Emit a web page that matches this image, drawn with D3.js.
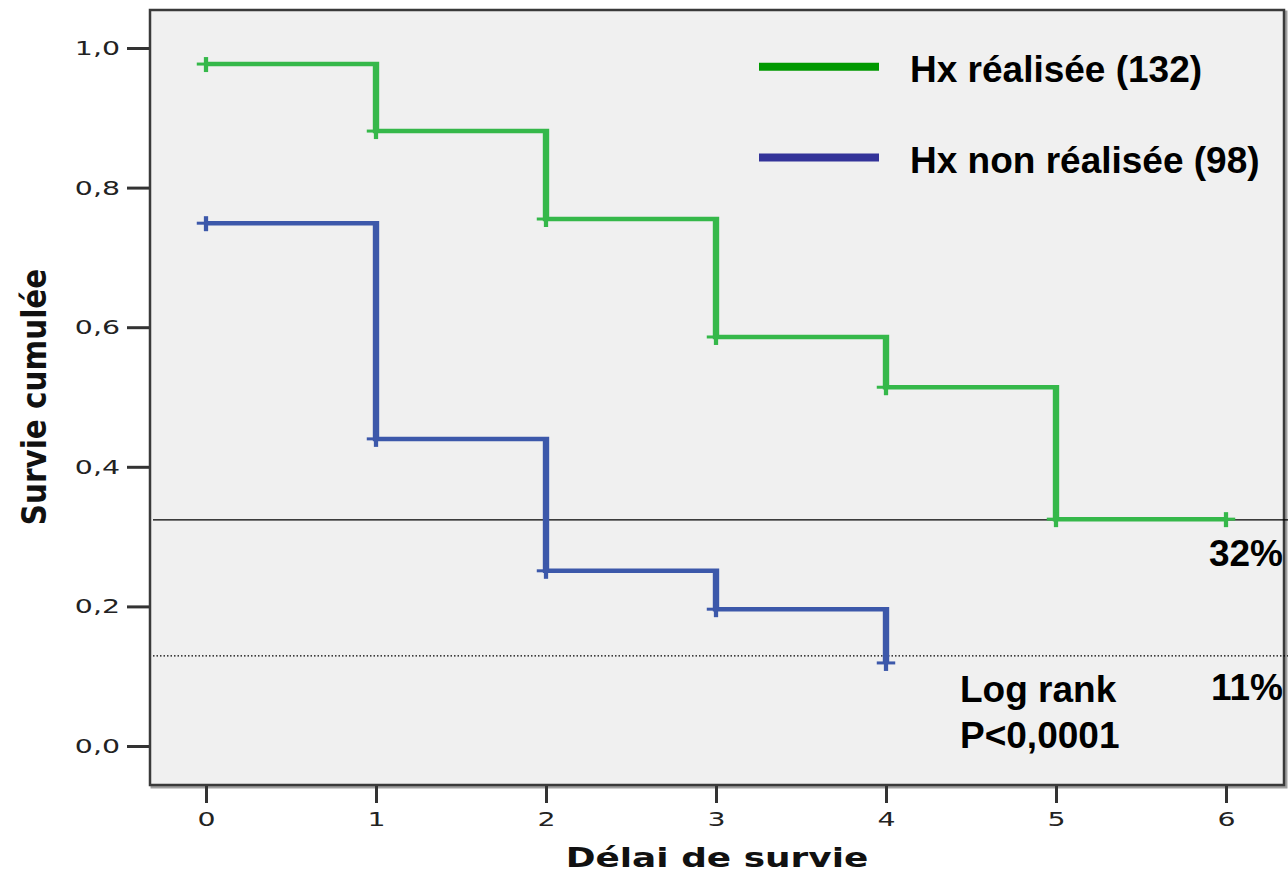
<!DOCTYPE html>
<html>
<head>
<meta charset="utf-8">
<script src="https://cdn.jsdelivr.net/npm/d3@7"></script>
<style>
  html, body { margin: 0; padding: 0; background: #fff; overflow: hidden; }
  svg { display: block; }
</style>
</head>
<body>
<div id="chart"></div>
<script>
// Kaplan-Meier survival values
const times = [0, 1, 2, 3, 4, 5, 6];
const survieRealisee = [0.977, 0.881, 0.755, 0.586, 0.514, 0.325, 0.325];
const survieNonRealisee = [0.749, 0.44, 0.251, 0.196, 0.119];
const seriesNames = ["Hx réalisée (132)", "Hx non réalisée (98)"];
const yTicks = [0, 0.2, 0.4, 0.6, 0.8, 1.0];
const xTicks = [0, 1, 2, 3, 4, 5, 6];
const refLevels = [0.324, 0.129]; // 32% and 11% guide lines
const refLabels = ["32%", "11%"];
const testLines = ["Log rank", "P<0,0001"];

const W = 1288, H = 885;
const frame = { left: 150, top: 10, right: 1284, bottom: 785 };
// the original SPSS picture was stretched sideways, so its parts are drawn stretched too
const sx = 1.42;

const svg = d3.select("#chart").append("svg")
  .attr("width", W).attr("height", H);

const x = d3.scaleLinear().domain([0, 6]).range([206, 1226]);
const xs = d3.scaleLinear().domain([0, 6]).range([206 / sx, 1226 / sx]); // for the stretched group
const y = d3.scaleLinear().domain([0, 1]).range([746, 48]);

// plot background + frame with a light shadow
svg.append("rect")
  .attr("x", frame.left + 2).attr("y", frame.top + 2)
  .attr("width", frame.right - frame.left).attr("height", frame.bottom - frame.top)
  .attr("fill", "none").attr("stroke", "#a0a0a0").attr("stroke-width", 3);
svg.append("rect")
  .attr("x", frame.left).attr("y", frame.top)
  .attr("width", frame.right - frame.left).attr("height", frame.bottom - frame.top)
  .attr("fill", "#f0f0f0").attr("stroke", "#3a3a3a").attr("stroke-width", 2.5);

// stretch tick labels sideways around their anchor
function stretchLabels(sel) {
  sel.each(function() {
    const t = d3.select(this);
    const x0 = +t.attr("x") || 0;
    t.attr("x", x0 / sx).attr("transform", `scale(${sx},1)`);
  });
}

// y axis
const yAxis = d3.axisLeft(y).tickValues(yTicks)
  .tickFormat(d => d3.format(".1f")(d).replace(".", ","))
  .tickSize(22).tickPadding(7);
const gy = svg.append("g")
  .attr("transform", `translate(${frame.left - 1},0)`)
  .call(yAxis);
gy.select(".domain").remove();
gy.selectAll(".tick line").attr("stroke", "#333").attr("stroke-width", 3);
gy.selectAll(".tick text")
  .attr("fill", "#222").style("font-family", "DejaVu Sans").style("font-size", "20px")
  .call(stretchLabels);

// x axis
const xAxis = d3.axisBottom(x).tickValues(xTicks).tickFormat(d3.format("d"))
  .tickSize(17).tickPadding(9);
const gx = svg.append("g")
  .attr("transform", `translate(0,${frame.bottom + 1})`)
  .call(xAxis);
gx.select(".domain").remove();
gx.selectAll(".tick line").attr("stroke", "#333").attr("stroke-width", 3);
gx.selectAll(".tick text")
  .attr("fill", "#222").style("font-family", "DejaVu Sans").style("font-size", "20px")
  .call(stretchLabels);

// axis titles
svg.append("text")
  .attr("transform", "translate(717,867) scale(1.33,1)")
  .attr("text-anchor", "middle")
  .style("font-family", "DejaVu Sans").style("font-weight", "bold").style("font-size", "27px")
  .attr("fill", "#111")
  .text("Délai de survie");
svg.append("text")
  .attr("transform", "translate(46,397) scale(1.15,1) rotate(-90)")
  .attr("text-anchor", "middle")
  .style("font-family", "DejaVu Sans").style("font-weight", "bold").style("font-size", "29.5px")
  .attr("fill", "#111")
  .text("Survie cumulée");

// reference lines
svg.append("line")
  .attr("x1", frame.left + 3).attr("x2", W)
  .attr("y1", y(refLevels[0])).attr("y2", y(refLevels[0]))
  .attr("stroke", "#000").attr("stroke-width", 1.3);
svg.append("line")
  .attr("x1", frame.left + 3).attr("x2", W)
  .attr("y1", y(refLevels[1])).attr("y2", y(refLevels[1]))
  .attr("stroke", "#000").attr("stroke-width", 1.2).attr("stroke-dasharray", "1.5,2");

// survival curves
const curves = [
  { values: survieRealisee, color: "#35b84a", legend: "#009900" },
  { values: survieNonRealisee, color: "#3c58aa", legend: "#333399" }
];
const line = d3.line()
  .x(d => xs(d[0])).y(d => y(d[1]))
  .curve(d3.curveStepAfter);

const plot = svg.append("g").attr("transform", `scale(${sx},1)`);
curves.forEach(c => {
  const pts = c.values.map((v, i) => [times[i], v]);
  plot.append("path")
    .datum(pts)
    .attr("d", line)
    .attr("fill", "none")
    .attr("stroke", c.color).attr("stroke-width", 4.5)
    .attr("stroke-linejoin", "miter");
  // censor marks
  const g = plot.append("g").attr("stroke", c.color).attr("stroke-width", 3);
  g.selectAll(".h").data(pts).enter().append("line")
    .attr("x1", d => xs(d[0]) - 6.5).attr("x2", d => xs(d[0]) + 6.5)
    .attr("y1", d => y(d[1])).attr("y2", d => y(d[1]));
  g.selectAll(".v").data(pts).enter().append("line")
    .attr("x1", d => xs(d[0])).attr("x2", d => xs(d[0]))
    .attr("y1", d => y(d[1]) - 7).attr("y2", d => y(d[1]) + 8);
});

// legend
const legend = svg.append("g");
curves.forEach((c, i) => {
  const ly = 66.7 + i * 90.8;
  legend.append("line")
    .attr("x1", 759).attr("x2", 879).attr("y1", ly).attr("y2", ly)
    .attr("stroke", c.legend).attr("stroke-width", 8);
  legend.append("text")
    .attr("x", 910).attr("y", ly + 15.5)
    .style("font-family", "Liberation Sans, Arial").style("font-weight", "bold").style("font-size", "37px")
    .attr("fill", "#000")
    .text(seriesNames[i]);
});

// annotations
const bold = sel => sel.style("font-family", "Liberation Sans, Arial")
  .style("font-weight", "bold").style("font-size", "37px").attr("fill", "#000");
svg.append("text").attr("x", 1283).attr("y", 566).attr("text-anchor", "end")
  .call(bold).text(refLabels[0]);
svg.append("text").attr("x", 1283).attr("y", 700).attr("text-anchor", "end")
  .call(bold).text(refLabels[1]);
svg.append("text").attr("x", 960).attr("y", 702).call(bold).text(testLines[0]);
svg.append("text").attr("x", 960).attr("y", 748).call(bold).text(testLines[1]);
</script>
</body>
</html>
